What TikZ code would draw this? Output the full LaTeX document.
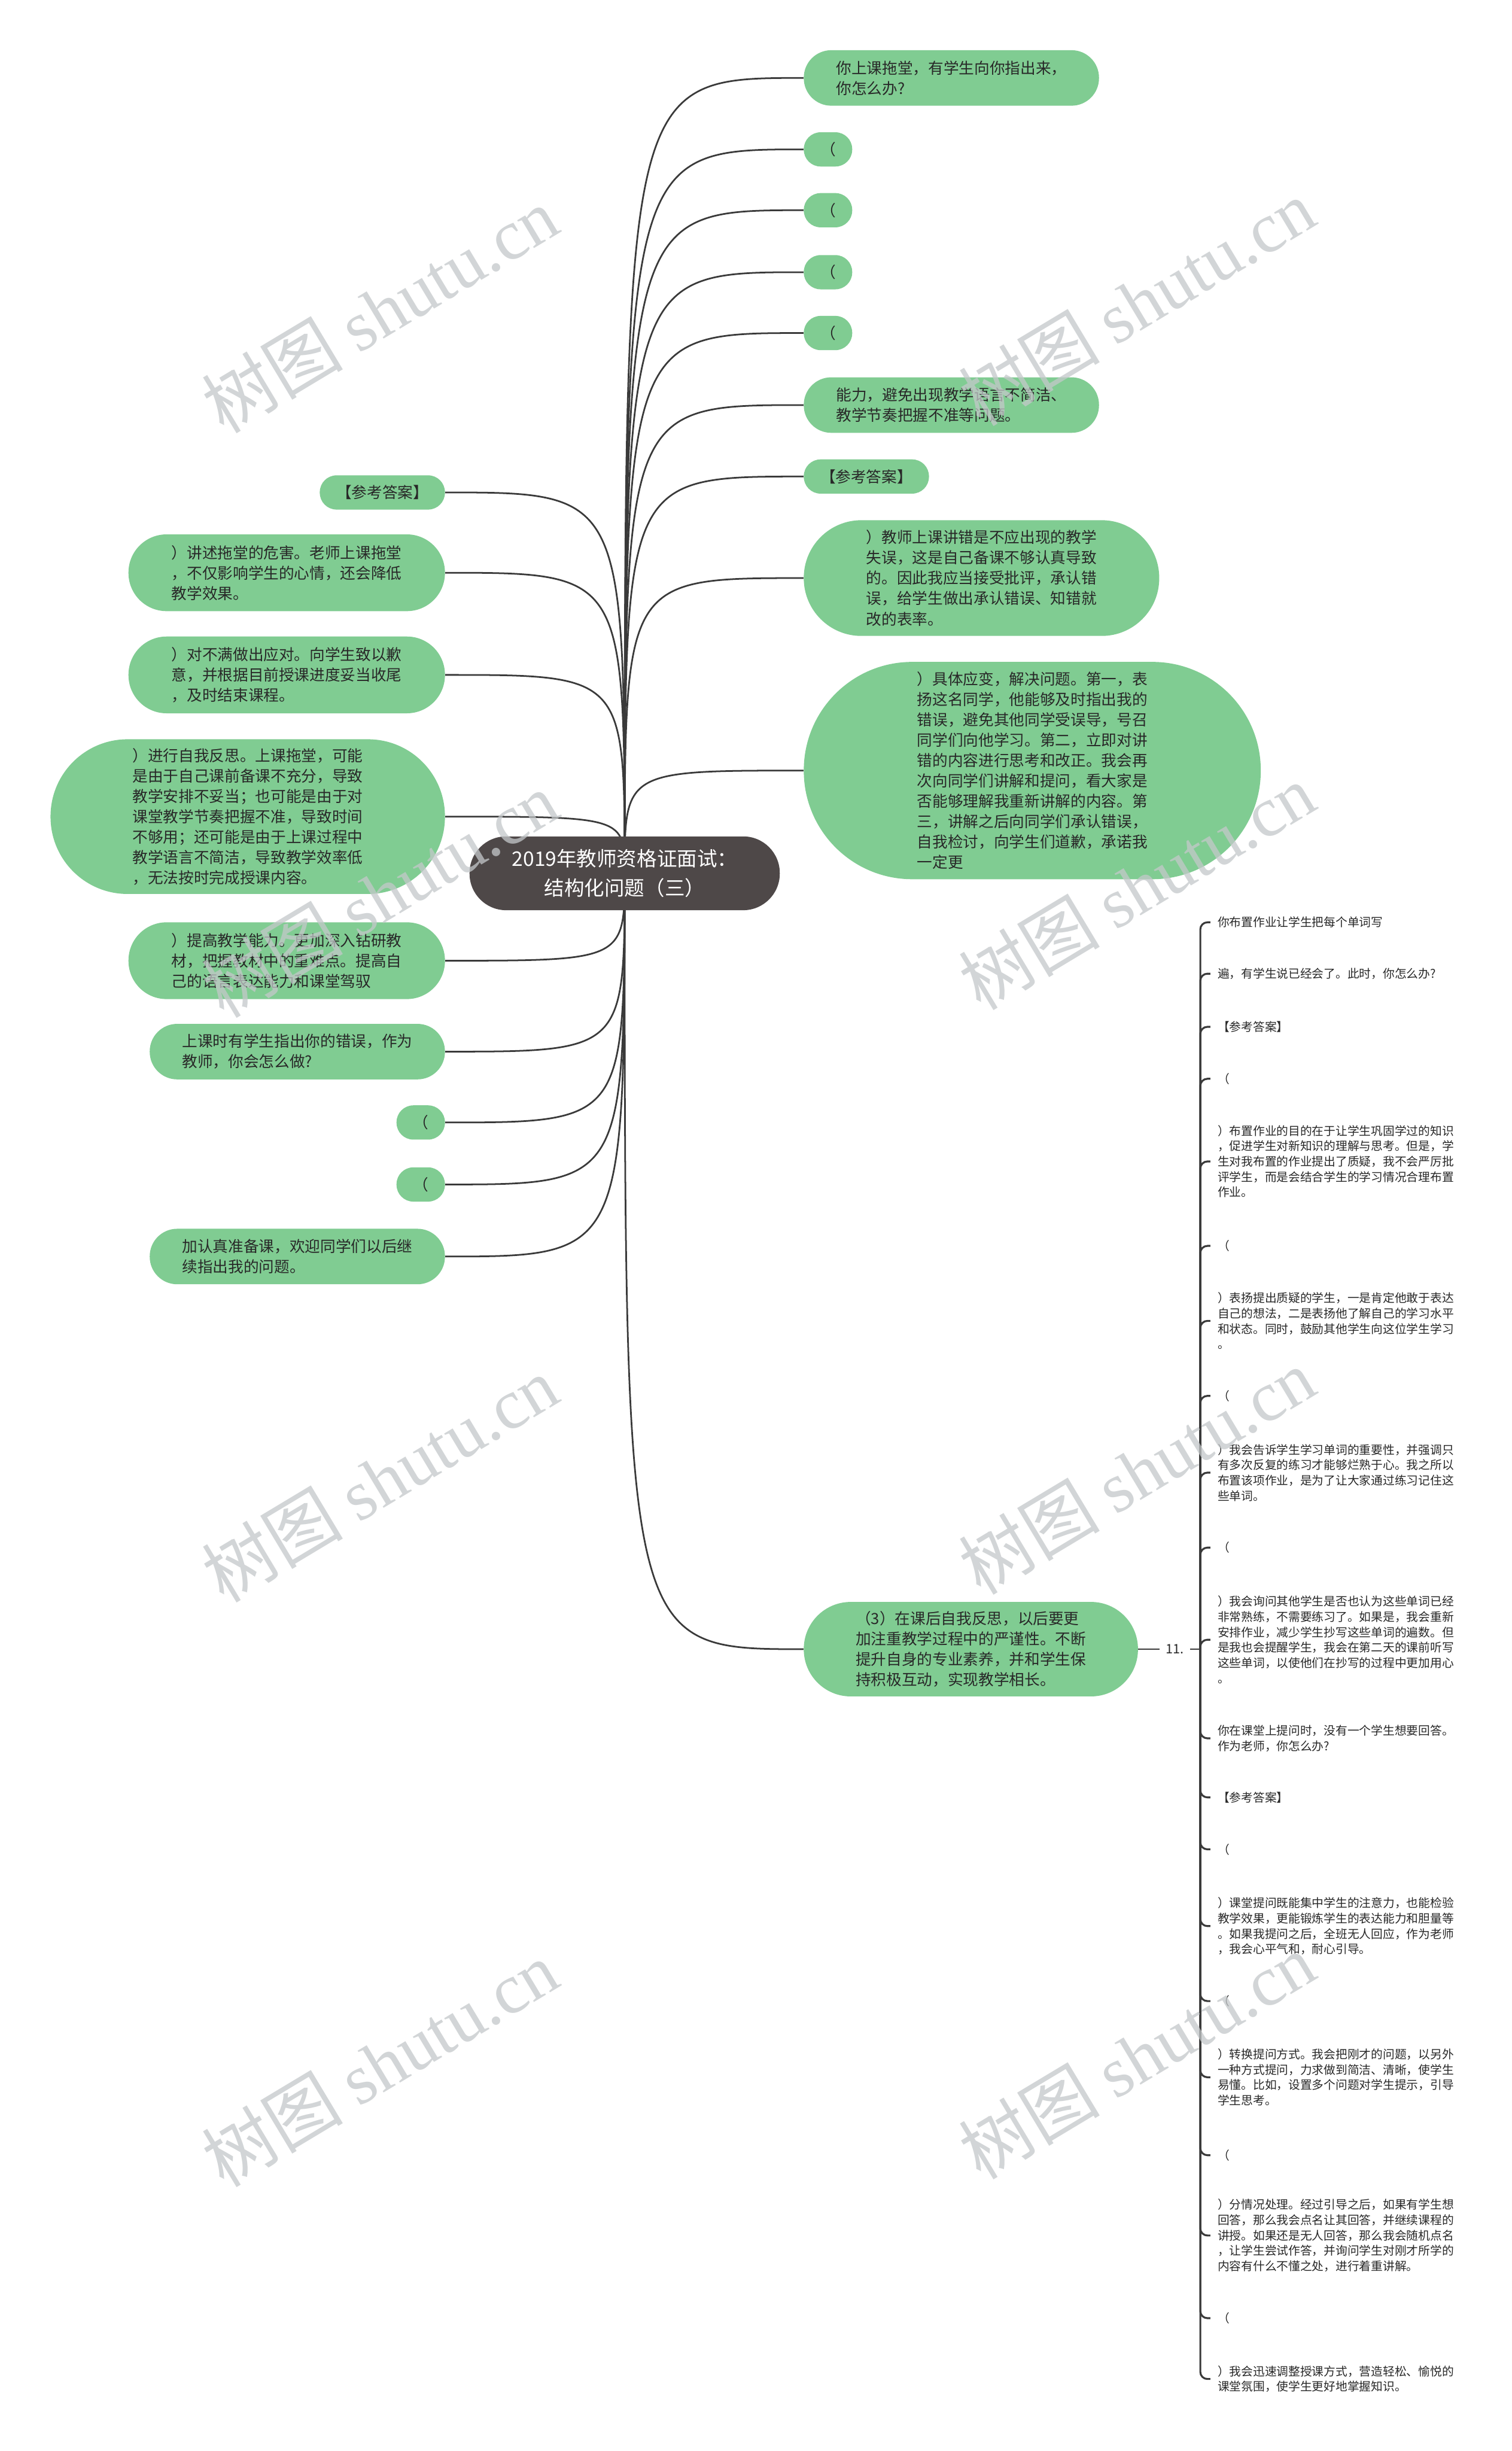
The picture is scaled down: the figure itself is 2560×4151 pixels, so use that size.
\documentclass[tikz,border=0pt]{standalone}
\usepackage{fontspec}
\setmainfont{Noto Sans CJK SC}
\newfontfamily\marklatin{Liberation Serif}
\usepackage{tikz}
\definecolor{LeafGreen}{RGB}{128,204,146}
\definecolor{RootGray}{RGB}{78,72,72}
\definecolor{LineGray}{RGB}{58,58,58}
\definecolor{InkGray}{RGB}{40,40,40}
\definecolor{MarkGray}{RGB}{196,200,202}
\newcommand\rootfont{\fontsize{17pt}{25pt}\selectfont}
\newcommand\leaffont{\fontsize{13pt}{17.25pt}\selectfont}
\newcommand\itemfont{\fontsize{10pt}{13pt}\selectfont}
\newcommand\markfont{\fontsize{60pt}{60pt}\selectfont}

\begin{document}
\begin{tikzpicture}[x=0.5pt,y=-0.5pt,
    leaf/.style={fill=LeafGreen,text=InkGray,font=\leaffont,align=left,
      inner ysep=0pt,minimum height=#1,inner xsep={#1/2+4pt},
      rounded corners={#1/2-.25pt}},
    root/.style={fill=RootGray,text=white,font=\rootfont,align=center,
      inner ysep=0pt,minimum height=62.5pt,inner xsep=36pt,rounded corners=31pt},
    branch/.style={draw=LineGray,line width=1.4pt},
    brace/.style={draw=LineGray,line width=1.6pt,rounded corners=6pt},
    item/.style={font=\itemfont,text=InkGray,align=left,anchor=west,
      inner xsep=6pt,inner ysep=1pt},
    wmark/.style={font=\markfont,text=MarkGray,rotate=31,opacity=.75}]

  \useasboundingbox (0,0) rectangle (2560,4151);
  \fill[white] (0,0) rectangle (2560,4151);

  % right side
  \node[leaf=47pt,anchor=west] (r1) at (1361,132) {你上课拖堂，有学生向你指出来，\\你怎么办?};
  \node[leaf=29pt,inner xsep=14pt,anchor=west] (r2) at (1361,253) {（};
  \node[leaf=29pt,inner xsep=14pt,anchor=west] (r3) at (1361,356) {（};
  \node[leaf=29pt,inner xsep=14pt,anchor=west] (r4) at (1361,461) {（};
  \node[leaf=29pt,inner xsep=14pt,anchor=west] (r5) at (1361,564) {（};
  \node[leaf=47pt,anchor=west] (r6) at (1361,686) {能力，避免出现教学语言不简洁、\\教学节奏把握不准等问题。};
  \node[leaf=29pt,inner xsep=14pt,anchor=west] (r7) at (1361,807) {【参考答案】};
  \node[leaf=98pt,anchor=west] (r8) at (1361,979) {）教师上课讲错是不应出现的教学\\失误，这是自己备课不够认真导致\\的。因此我应当接受批评，承认错\\误，给学生做出承认错误、知错就\\改的表率。};
  \node[leaf=184pt,anchor=west] (r9) at (1361,1305) {）具体应变，解决问题。第一，表\\扬这名同学，他能够及时指出我的\\错误，避免其他同学受误导，号召\\同学们向他学习。第二，立即对讲\\错的内容进行思考和改正。我会再\\次向同学们讲解和提问，看大家是\\否能够理解我重新讲解的内容。第\\三，讲解之后向同学们承认错误，\\自我检讨，向学生们道歉，承诺我\\一定更};
  \node[leaf=80pt,anchor=west] (r10) at (1361,2793) {（3）在课后自我反思，以后要更\\加注重教学过程中的严谨性。不断\\提升自身的专业素养，并和学生保\\持积极互动，实现教学相长。};

  % left side
  \node[leaf=29pt,inner xsep=14pt,anchor=east] (l1) at (754,834) {【参考答案】};
  \node[leaf=65pt,anchor=east] (l2) at (754,970) {）讲述拖堂的危害。老师上课拖堂\\，不仅影响学生的心情，还会降低\\教学效果。};
  \node[leaf=65pt,anchor=east] (l3) at (754,1143) {）对不满做出应对。向学生致以歉\\意，并根据目前授课进度妥当收尾\\，及时结束课程。};
  \node[leaf=131pt,anchor=east] (l4) at (754,1383) {）进行自我反思。上课拖堂，可能\\是由于自己课前备课不充分，导致\\教学安排不妥当；也可能是由于对\\课堂教学节奏把握不准，导致时间\\不够用；还可能是由于上课过程中\\教学语言不简洁，导致教学效率低\\，无法按时完成授课内容。};
  \node[leaf=65pt,anchor=east] (l5) at (754,1627) {）提高教学能力。更加深入钻研教\\材，把握教材中的重难点。提高自\\己的语言表达能力和课堂驾驭};
  \node[leaf=47pt,anchor=east] (l6) at (754,1781) {上课时有学生指出你的错误，作为\\教师，你会怎么做?};
  \node[leaf=29pt,inner xsep=14pt,anchor=east] (l7) at (754,1901) {（};
  \node[leaf=29pt,inner xsep=14pt,anchor=east] (l8) at (754,2006) {（};
  \node[leaf=47pt,anchor=east] (l9) at (754,2128) {加认真准备课，欢迎同学们以后继\\续指出我的问题。};

  % branches from the hub
  \coordinate (hub) at (1058,1479);
  \foreach \n in {r1,r2,r3,r4,r5,r6,r7,r8,r9,r10}
    \draw[branch] (hub) .. controls (hub |- \n.west) .. (\n.west);
  \foreach \n in {l1,l2,l3,l4,l5,l6,l7,l8,l9}
    \draw[branch] (hub) .. controls (hub |- \n.east) .. (\n.east);
  \node[root] (root) at (hub) {2019年教师资格证面试：\\结构化问题（三）};

  % numbered list
  \node[font=\fontsize{11pt}{13pt}\selectfont,text=InkGray,inner xsep=5pt] (num) at (1990,2793) {11.};
  \coordinate (jn) at (2033,2793);
  \draw[branch] (r10.east) -- (num.west) (num.east) -- (jn);
  \foreach \y/\txt [count=\k] in {
      1562/{你布置作业让学生把每个单词写},
      1649/{遍，有学生说已经会了。此时，你怎么办?},
      1739/{【参考答案】},
      1827/{（},
      1967/{）布置作业的目的在于让学生巩固学过的知识\\，促进学生对新知识的理解与思考。但是，学\\生对我布置的作业提出了质疑，我不会严厉批\\评学生，而是会结合学生的学习情况合理布置\\作业。},
      2110/{（},
      2237/{）表扬提出质疑的学生，一是肯定他敢于表达\\自己的想法，二是表扬他了解自己的学习水平\\和状态。同时，鼓励其他学生向这位学生学习\\。},
      2364/{（},
      2494/{）我会告诉学生学习单词的重要性，并强调只\\有多次反复的练习才能够烂熟于心。我之所以\\布置该项作业，是为了让大家通过练习记住这\\些单词。},
      2621/{（},
      2777/{）我会询问其他学生是否也认为这些单词已经\\非常熟练，不需要练习了。如果是，我会重新\\安排作业，减少学生抄写这些单词的遍数。但\\是我也会提醒学生，我会在第二天的课前听写\\这些单词，以使他们在抄写的过程中更加用心\\。},
      2944/{你在课堂上提问时，没有一个学生想要回答。\\作为老师，你怎么办?},
      3044/{【参考答案】},
      3132/{（},
      3262/{）课堂提问既能集中学生的注意力，也能检验\\教学效果，更能锻炼学生的表达能力和胆量等\\。如果我提问之后，全班无人回应，作为老师\\，我会心平气和，耐心引导。},
      3389/{（},
      3518/{）转换提问方式。我会把刚才的问题，以另外\\一种方式提问，力求做到简洁、清晰，使学生\\易懂。比如，设置多个问题对学生提示，引导\\学生思考。},
      3650/{（},
      3786/{）分情况处理。经过引导之后，如果有学生想\\回答，那么我会点名让其回答，并继续课程的\\讲授。如果还是无人回答，那么我会随机点名\\，让学生尝试作答，并询问学生对刚才所学的\\内容有什么不懂之处，进行着重讲解。},
      3926/{（},
      4029/{）我会迅速调整授课方式，营造轻松、愉悦的\\课堂氛围，使学生更好地掌握知识。}}{
    \node[item] (i\k) at (2050,\y) {\txt};
    \draw[brace] (jn) |- (i\k.west);
  }

  % watermarks
  \foreach \x/\y [count=\k] in {643/525,1925/512,643/1515,1925/1502,
      643/2505,1925/2492,643/3495,1925/3482}
    \node[wmark] (wm\k) at (\x,\y) {树图 {\marklatin shutu.cn}};
\end{tikzpicture}
\end{document}
